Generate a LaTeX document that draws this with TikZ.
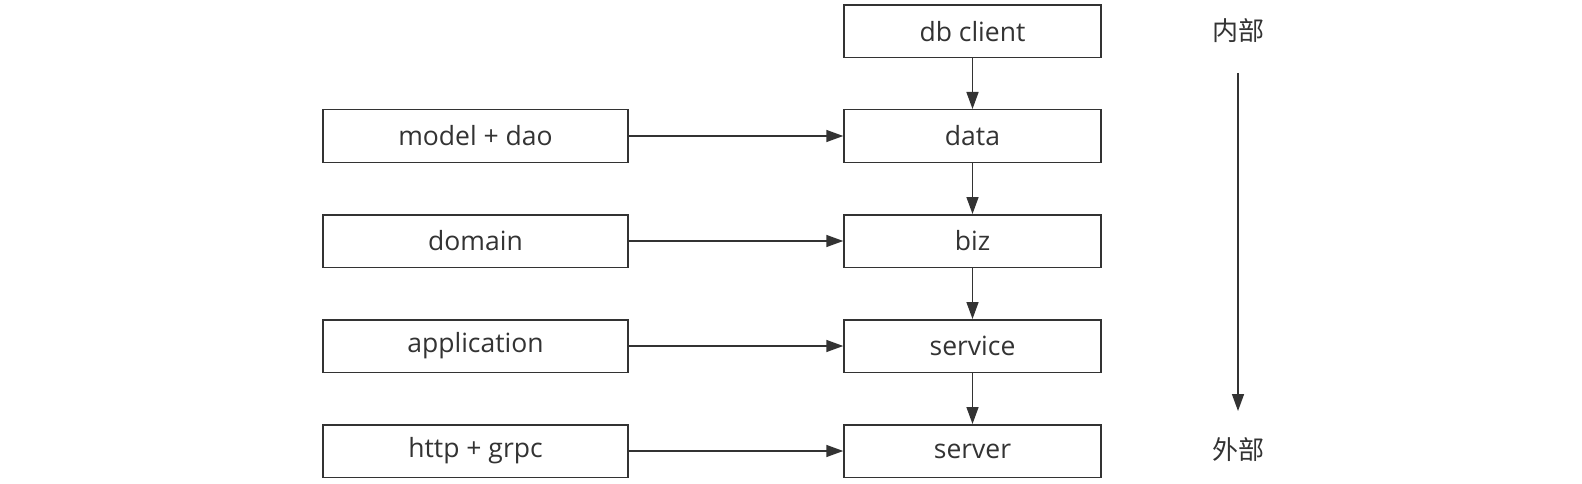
\documentclass[tikz,border=0pt]{standalone}
\usepackage{fontspec}
\setmainfont{Open Sans}
\newfontfamily\cjkfont{Noto Sans CJK SC}
\usepackage{xcolor}
\usepackage{tikz}
\usetikzlibrary{arrows.meta, positioning}
\definecolor{linegray}{RGB}{51,51,51}

\begin{document}
\begin{tikzpicture}[
  x=1pt, y=-1pt,
  font=\fontsize{26.5}{30}\selectfont,
  every node/.style={align=center, text=linegray},
  box/.style={draw=linegray, line width=1.5pt, fill=white, minimum height=52.5pt,
              minimum width=#1, inner sep=0pt},
  flow/.style={-{Triangle[length=17pt, width=12pt]}, draw=linegray, line width=1.5pt},
  sidelbl/.style={inner sep=0pt, font=\cjkfont\fontsize{26}{30}\selectfont},
]
\useasboundingbox (0,0) rectangle (1582,484);

%% Right column: layers
\node[box=257pt] (dbclient) at (972.5, 31.25) {db client};
\node[box=257pt] (data)     at (972.5, 136)   {data};
\node[box=257pt] (biz)      at (972.5, 241)   {biz};
\node[box=257pt] (service)  at (972.5, 346)   {service};
\node[box=257pt] (server)   at (972.5, 451)   {server};

%% Left column: what each layer holds
\node[box=305pt] (modeldao) at (475.5, 136) {model + dao};
\node[box=305pt] (domain)   at (475.5, 241) {domain};
\node[box=305pt] (app)      at (475.5, 346) {application};
\node[box=305pt] (transport) at (475.5, 451) {http + grpc};

%% Side direction
\node[sidelbl] (inner) at (1238, 31) {内部};
\node[sidelbl] (outer) at (1238, 450) {外部};
\coordinate (dirtop) at (1238, 73);
\coordinate (dirbot) at (1238, 411);

%% Arrows
\draw[flow] (dbclient.south) -- (data.north);
\draw[flow] (data.south) -- (biz.north);
\draw[flow] (biz.south) -- (service.north);
\draw[flow] (service.south) -- (server.north);

\draw[flow] (modeldao.east) -- (data.west);
\draw[flow] (domain.east) -- (biz.west);
\draw[flow] (app.east) -- (service.west);
\draw[flow] (transport.east) -- (server.west);

\draw[flow] (dirtop) -- (dirbot);

\end{tikzpicture}
\end{document}
